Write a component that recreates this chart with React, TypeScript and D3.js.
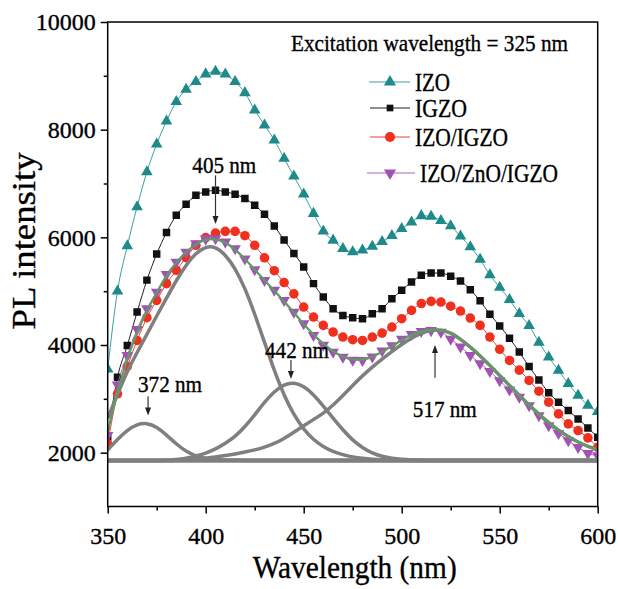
import * as d3 from 'd3';
import { useEffect, useRef } from 'react';

// wavelength grid of the measured spectra (nm)
const wavelengths = [
  350, 355, 360, 365, 370, 375, 380, 385, 390, 395,
  400, 405, 410, 415, 420, 425, 430, 435, 440, 445,
  450, 455, 460, 465, 470, 475, 480, 485, 490, 495,
  500, 505, 510, 515, 520, 525, 530, 535, 540, 545,
  550, 555, 560, 565, 570, 575, 580, 585, 590, 595, 600,
];

const izo = [
  3550, 5000, 5840, 6565, 7216, 7731, 8159, 8518, 8748, 8890,
  9033, 9080, 9030, 8890, 8685, 8363, 8084, 7805, 7465, 7136,
  6800, 6442, 6113, 5945, 5790, 5730, 5760, 5830, 5920, 6030,
  6160, 6280, 6400, 6390, 6310, 6210, 6020, 5820, 5590, 5300,
  5070, 4840, 4580, 4360, 4050, 3775, 3527, 3280, 3062, 2880, 2760,
];

const igzo = [
  2290, 3400, 3990, 4612, 5205, 5690, 6090, 6410, 6615, 6782,
  6844, 6875, 6844, 6800, 6720, 6596, 6429, 6210, 5950, 5700,
  5450, 5140, 4890, 4675, 4550, 4507, 4488, 4580, 4675, 4860,
  5015, 5170, 5294, 5337, 5337, 5276, 5188, 5028, 4820, 4570,
  4355, 4125, 3868, 3600, 3350, 3115, 2938, 2783, 2627, 2460, 2287,
];

const izoIgzo = [
  2163, 3094, 3602, 4085, 4507, 4829, 5140, 5387, 5623, 5852,
  5995, 6080, 6110, 6110, 6030, 5852, 5620, 5380, 5160, 4950,
  4705, 4519, 4364, 4240, 4147, 4098, 4085, 4147, 4221, 4333,
  4488, 4643, 4770, 4810, 4798, 4720, 4630, 4500, 4364, 4147,
  3920, 3713, 3533, 3341, 3142, 2938, 2720, 2535, 2411, 2275, 2100,
];

const izoZnoIgzo = [
  2320, 3260, 3806, 4290, 4675, 4984, 5313, 5542, 5728, 5884,
  5970, 5977, 5914, 5790, 5600, 5400, 5200, 5020, 4830, 4610,
  4400, 4180, 4000, 3870, 3775, 3720, 3715, 3780, 3890, 3990,
  4110, 4200, 4255, 4270, 4240, 4110, 3965, 3810, 3655, 3510,
  3341, 3168, 3031, 2876, 2690, 2504, 2361, 2225, 2100, 1989, 1946,
];

// cumulative gaussian fit (green)
const fitSum = [
  2380, 3150, 3750, 4240, 4640, 4980, 5290, 5540, 5730, 5880,
  5965, 5975, 5910, 5780, 5600, 5400, 5200, 5010, 4810, 4600,
  4390, 4190, 4020, 3880, 3780, 3725, 3725, 3775, 3870, 3980,
  4090, 4190, 4260, 4290, 4280, 4220, 4110, 3970, 3810, 3630,
  3440, 3250, 3070, 2890, 2720, 2560, 2420, 2300, 2200, 2120, 2060,
];

// fitted components (grey)
const baseline = 1855;

const peak372 = [
  2050, 2250, 2420, 2530, 2555, 2480, 2330, 2160, 2020, 1935,
  1893, 1872, 1862, 1858, 1856, 1855, 1855, 1855, 1855, 1855,
  1855, 1855, 1855, 1855, 1855, 1855, 1855, 1855, 1855, 1855,
  1855, 1855, 1855, 1855, 1855, 1855, 1855, 1855, 1855, 1855,
  1855, 1855, 1855, 1855, 1855, 1855, 1855, 1855, 1855, 1855, 1855,
];

const peak405 = [
  2640, 3080, 3520, 3860, 4200, 4540, 4870, 5200, 5490, 5710,
  5830, 5830, 5680, 5430, 5060, 4580, 4050, 3520, 3060, 2700,
  2430, 2240, 2110, 2020, 1960, 1920, 1893, 1877, 1867, 1861,
  1858, 1856, 1855, 1855, 1855, 1855, 1855, 1855, 1855, 1855,
  1855, 1855, 1855, 1855, 1855, 1855, 1855, 1855, 1855, 1855, 1855,
];

const peak442 = [
  1855, 1855, 1855, 1855, 1855, 1855, 1860, 1870, 1895, 1935,
  1990, 2065, 2170, 2300, 2480, 2700, 2940, 3140, 3270, 3305,
  3240, 3080, 2870, 2640, 2420, 2230, 2090, 1990, 1930, 1895,
  1875, 1865, 1860, 1855, 1855, 1855, 1855, 1855, 1855, 1855,
  1855, 1855, 1855, 1855, 1855, 1855, 1855, 1855, 1855, 1855, 1855,
];

const peak517 = [
  1855, 1855, 1855, 1855, 1855, 1855, 1855, 1860, 1868, 1880,
  1897, 1918, 1945, 1975, 2010, 2050, 2100, 2170, 2260, 2380,
  2500, 2615, 2730, 2880, 3060, 3250, 3430, 3590, 3740, 3880,
  4010, 4130, 4220, 4280, 4285, 4230, 4110, 3965, 3800, 3620,
  3435, 3245, 3065, 2885, 2715, 2555, 2415, 2295, 2195, 2115, 2055,
];

const xTicks = [350, 400, 450, 500, 550, 600];
const xMinor = [375, 425, 475, 525, 575];
const yTicks = [2000, 4000, 6000, 8000, 10000];
const yMinor = [3000, 5000, 7000, 9000];

// annotation: label, arrow wavelength, arrow from/to intensity, label wavelength & intensity (baseline)
const notes = [
  { label: '405 nm', wl: 405, from: 7150, to: 6250, tx: 409.5, ty: 7200 },
  { label: '372 nm', wl: 370.6, from: 3050, to: 2690, tx: 381.8, ty: 3130 },
  { label: '442 nm', wl: 443.5, from: 3720, to: 3370, tx: 446.6, ty: 3760 },
  { label: '517 nm', wl: 517, from: 3390, to: 4000, tx: 522, ty: 2665 },
];

const series = [
  { name: 'IZO', values: izo, color: '#1f8a8a', line: '#3aa0a0', shape: 'tri' },
  { name: 'IGZO', values: igzo, color: '#111111', line: '#222222', shape: 'sq' },
  { name: 'IZO/IGZO', values: izoIgzo, color: '#f0301f', line: '#f04030', shape: 'circ' },
  { name: 'IZO/ZnO/IGZO', values: izoZnoIgzo, color: '#a153b3', line: '#b060c0', shape: 'down' },
];

const FONT = '"Liberation Serif", "Times New Roman", serif';

function App() {
  const svgRef = useRef<SVGSVGElement>(null);

  useEffect(() => {
    const svg = d3.select(svgRef.current);
    svg.selectAll('*').remove();

    const x = d3.scaleLinear().domain([350, 600]).range([107.7, 597.7]);
    const y = d3.scaleLinear().domain([1000, 10000]).range([506.5, 22]);
    const [x0, x1] = x.range();
    const [yb, yt] = y.range();

    svg.append('defs').append('clipPath').attr('id', 'plot')
      .append('rect').attr('x', x0).attr('y', yt).attr('width', x1 - x0).attr('height', yb - yt);

    const markerPath = (shape: string, s = 1) => {
      if (shape === 'tri' || shape === 'down') return d3.symbol(d3.symbolTriangle, 58 * s)() as string;
      if (shape === 'sq') return d3.symbol(d3.symbolSquare, 56 * s)() as string;
      return d3.symbol(d3.symbolCircle, 72 * s)() as string;
    };

    // 文字稍微加粗一点，跟原图的粗细接近
    const txt = (sel: any) => sel
      .attr('font-family', FONT)
      .attr('fill', '#000')
      .attr('stroke', '#000')
      .attr('stroke-width', 0.35);

    const plot = svg.append('g').attr('clip-path', 'url(#plot)');

    // ---------- measured spectra ----------
    series.forEach(s => {
      const line = d3.line<number>()
        .x((_, i) => x(wavelengths[i]))
        .y(d => y(d))
        .curve(d3.curveMonotoneX);
      plot.append('path')
        .datum(s.values)
        .attr('fill', 'none')
        .attr('stroke', s.line)
        .attr('stroke-width', 1)
        .attr('d', line);
      plot.append('g').selectAll('path')
        .data(s.values)
        .join('path')
        .attr('d', markerPath(s.shape))
        .attr('transform', (d, i) =>
          `translate(${x(wavelengths[i])},${y(d)})${s.shape === 'down' ? ' rotate(180)' : ''}`)
        .attr('fill', s.color);
    });

    // ---------- grey components ----------
    const comp = d3.line<number>()
      .x((_, i) => x(wavelengths[i]))
      .y(d => y(d))
      .curve(d3.curveBasis);
    plot.append('line')
      .attr('x1', x(350)).attr('x2', x(600))
      .attr('y1', y(baseline)).attr('y2', y(baseline))
      .attr('stroke', '#808080').attr('stroke-width', 4.5);
    [peak372, peak405, peak442, peak517].forEach(p => {
      plot.append('path')
        .datum(p)
        .attr('fill', 'none')
        .attr('stroke', '#7f7f7f')
        .attr('stroke-width', 3.5)
        .attr('d', comp);
    });

    // green cumulative fit
    plot.append('path')
      .datum(fitSum)
      .attr('fill', 'none')
      .attr('stroke', '#5e9c62')
      .attr('stroke-width', 2.2)
      .attr('d', comp);

    // ---------- axes ----------
    const axisStyle = (g: any) => {
      g.select('.domain').remove();
      g.selectAll('line').attr('stroke', '#000').attr('stroke-width', 1.5);
      g.selectAll('text').call(txt).attr('font-size', 24);
    };

    svg.append('g')
      .attr('transform', `translate(0,${yb})`)
      .call(d3.axisBottom(x).tickValues(xTicks).tickSize(7).tickPadding(13).tickFormat(d3.format('d')))
      .call(axisStyle);
    svg.append('g')
      .attr('transform', `translate(0,${yb})`)
      .call(d3.axisBottom(x).tickValues(xMinor).tickSize(4).tickFormat(() => ''))
      .call(axisStyle);
    svg.append('g')
      .attr('transform', `translate(${x0},0)`)
      .call(d3.axisLeft(y).tickValues(yTicks).tickSize(7).tickPadding(5).tickFormat(d3.format('d')))
      .call(axisStyle);
    svg.append('g')
      .attr('transform', `translate(${x0},0)`)
      .call(d3.axisLeft(y).tickValues(yMinor).tickSize(4).tickFormat(() => ''))
      .call(axisStyle);

    svg.append('rect')
      .attr('x', x0).attr('y', yt).attr('width', x1 - x0).attr('height', yb - yt)
      .attr('fill', 'none').attr('stroke', '#000').attr('stroke-width', 1.5);

    // axis titles
    svg.append('text')
      .attr('x', (x0 + x1) / 2 + 2).attr('y', 578)
      .attr('text-anchor', 'middle')
      .call(txt).attr('font-size', 32)
      .attr('textLength', 204).attr('lengthAdjust', 'spacingAndGlyphs')
      .text('Wavelength (nm)');
    svg.append('text')
      .attr('transform', 'translate(35,241) rotate(-90)')
      .attr('text-anchor', 'middle')
      .call(txt).attr('font-size', 34)
      .attr('textLength', 177).attr('lengthAdjust', 'spacingAndGlyphs')
      .text('PL intensity');

    // ---------- annotations ----------
    notes.forEach(n => {
      const ax = x(n.wl);
      const ya = y(n.from), yz = y(n.to);
      const dir = yz > ya ? 1 : -1;
      svg.append('line')
        .attr('x1', ax).attr('x2', ax)
        .attr('y1', ya).attr('y2', yz - dir * 6)
        .attr('stroke', '#333').attr('stroke-width', 1.2);
      svg.append('path')
        .attr('d', `M${ax - 3},${yz - dir * 8}L${ax + 3},${yz - dir * 8}L${ax},${yz}Z`)
        .attr('fill', '#222');
      svg.append('text')
        .attr('x', x(n.tx)).attr('y', y(n.ty))
        .attr('text-anchor', 'middle')
        .call(txt).attr('font-size', 23)
        .attr('textLength', 64).attr('lengthAdjust', 'spacingAndGlyphs')
        .text(n.label);
    });

    // ---------- legend ----------
    svg.append('text')
      .attr('x', 291).attr('y', 51)
      .call(txt).attr('font-size', 24)
      .attr('textLength', 277).attr('lengthAdjust', 'spacingAndGlyphs')
      .text('Excitation wavelength = 325 nm');

    const rows = [
      { y: 82, x1: 369, x2: 410, tx: 415, w: 35 },
      { y: 108, x1: 370, x2: 410, tx: 415, w: 52 },
      { y: 137, x1: 370, x2: 410, tx: 415, w: 93 },
      { y: 173, x1: 367, x2: 415, tx: 420, w: 138 },
    ];
    series.forEach((s, i) => {
      const r = rows[i];
      const g = svg.append('g');
      g.append('line')
        .attr('x1', r.x1).attr('x2', r.x2).attr('y1', r.y).attr('y2', r.y)
        .attr('stroke', s.line).attr('stroke-width', 1.2);
      g.append('path')
        .attr('d', markerPath(s.shape, s.shape === 'sq' ? 0.8 : 1.1))
        .attr('transform', `translate(390,${r.y})${s.shape === 'down' ? ' rotate(180)' : ''}`)
        .attr('fill', s.color);
      g.append('text')
        .attr('x', r.tx).attr('y', r.y + 8.5)
        .call(txt).attr('font-size', 25)
        .attr('textLength', r.w).attr('lengthAdjust', 'spacingAndGlyphs')
        .text(s.name);
    });
  }, []);

  return (
    <svg
      ref={svgRef}
      width={618}
      height={589}
      style={{ position: 'absolute', left: 0, top: 0, background: '#fff' }}
    />
  );
}

export default App;
